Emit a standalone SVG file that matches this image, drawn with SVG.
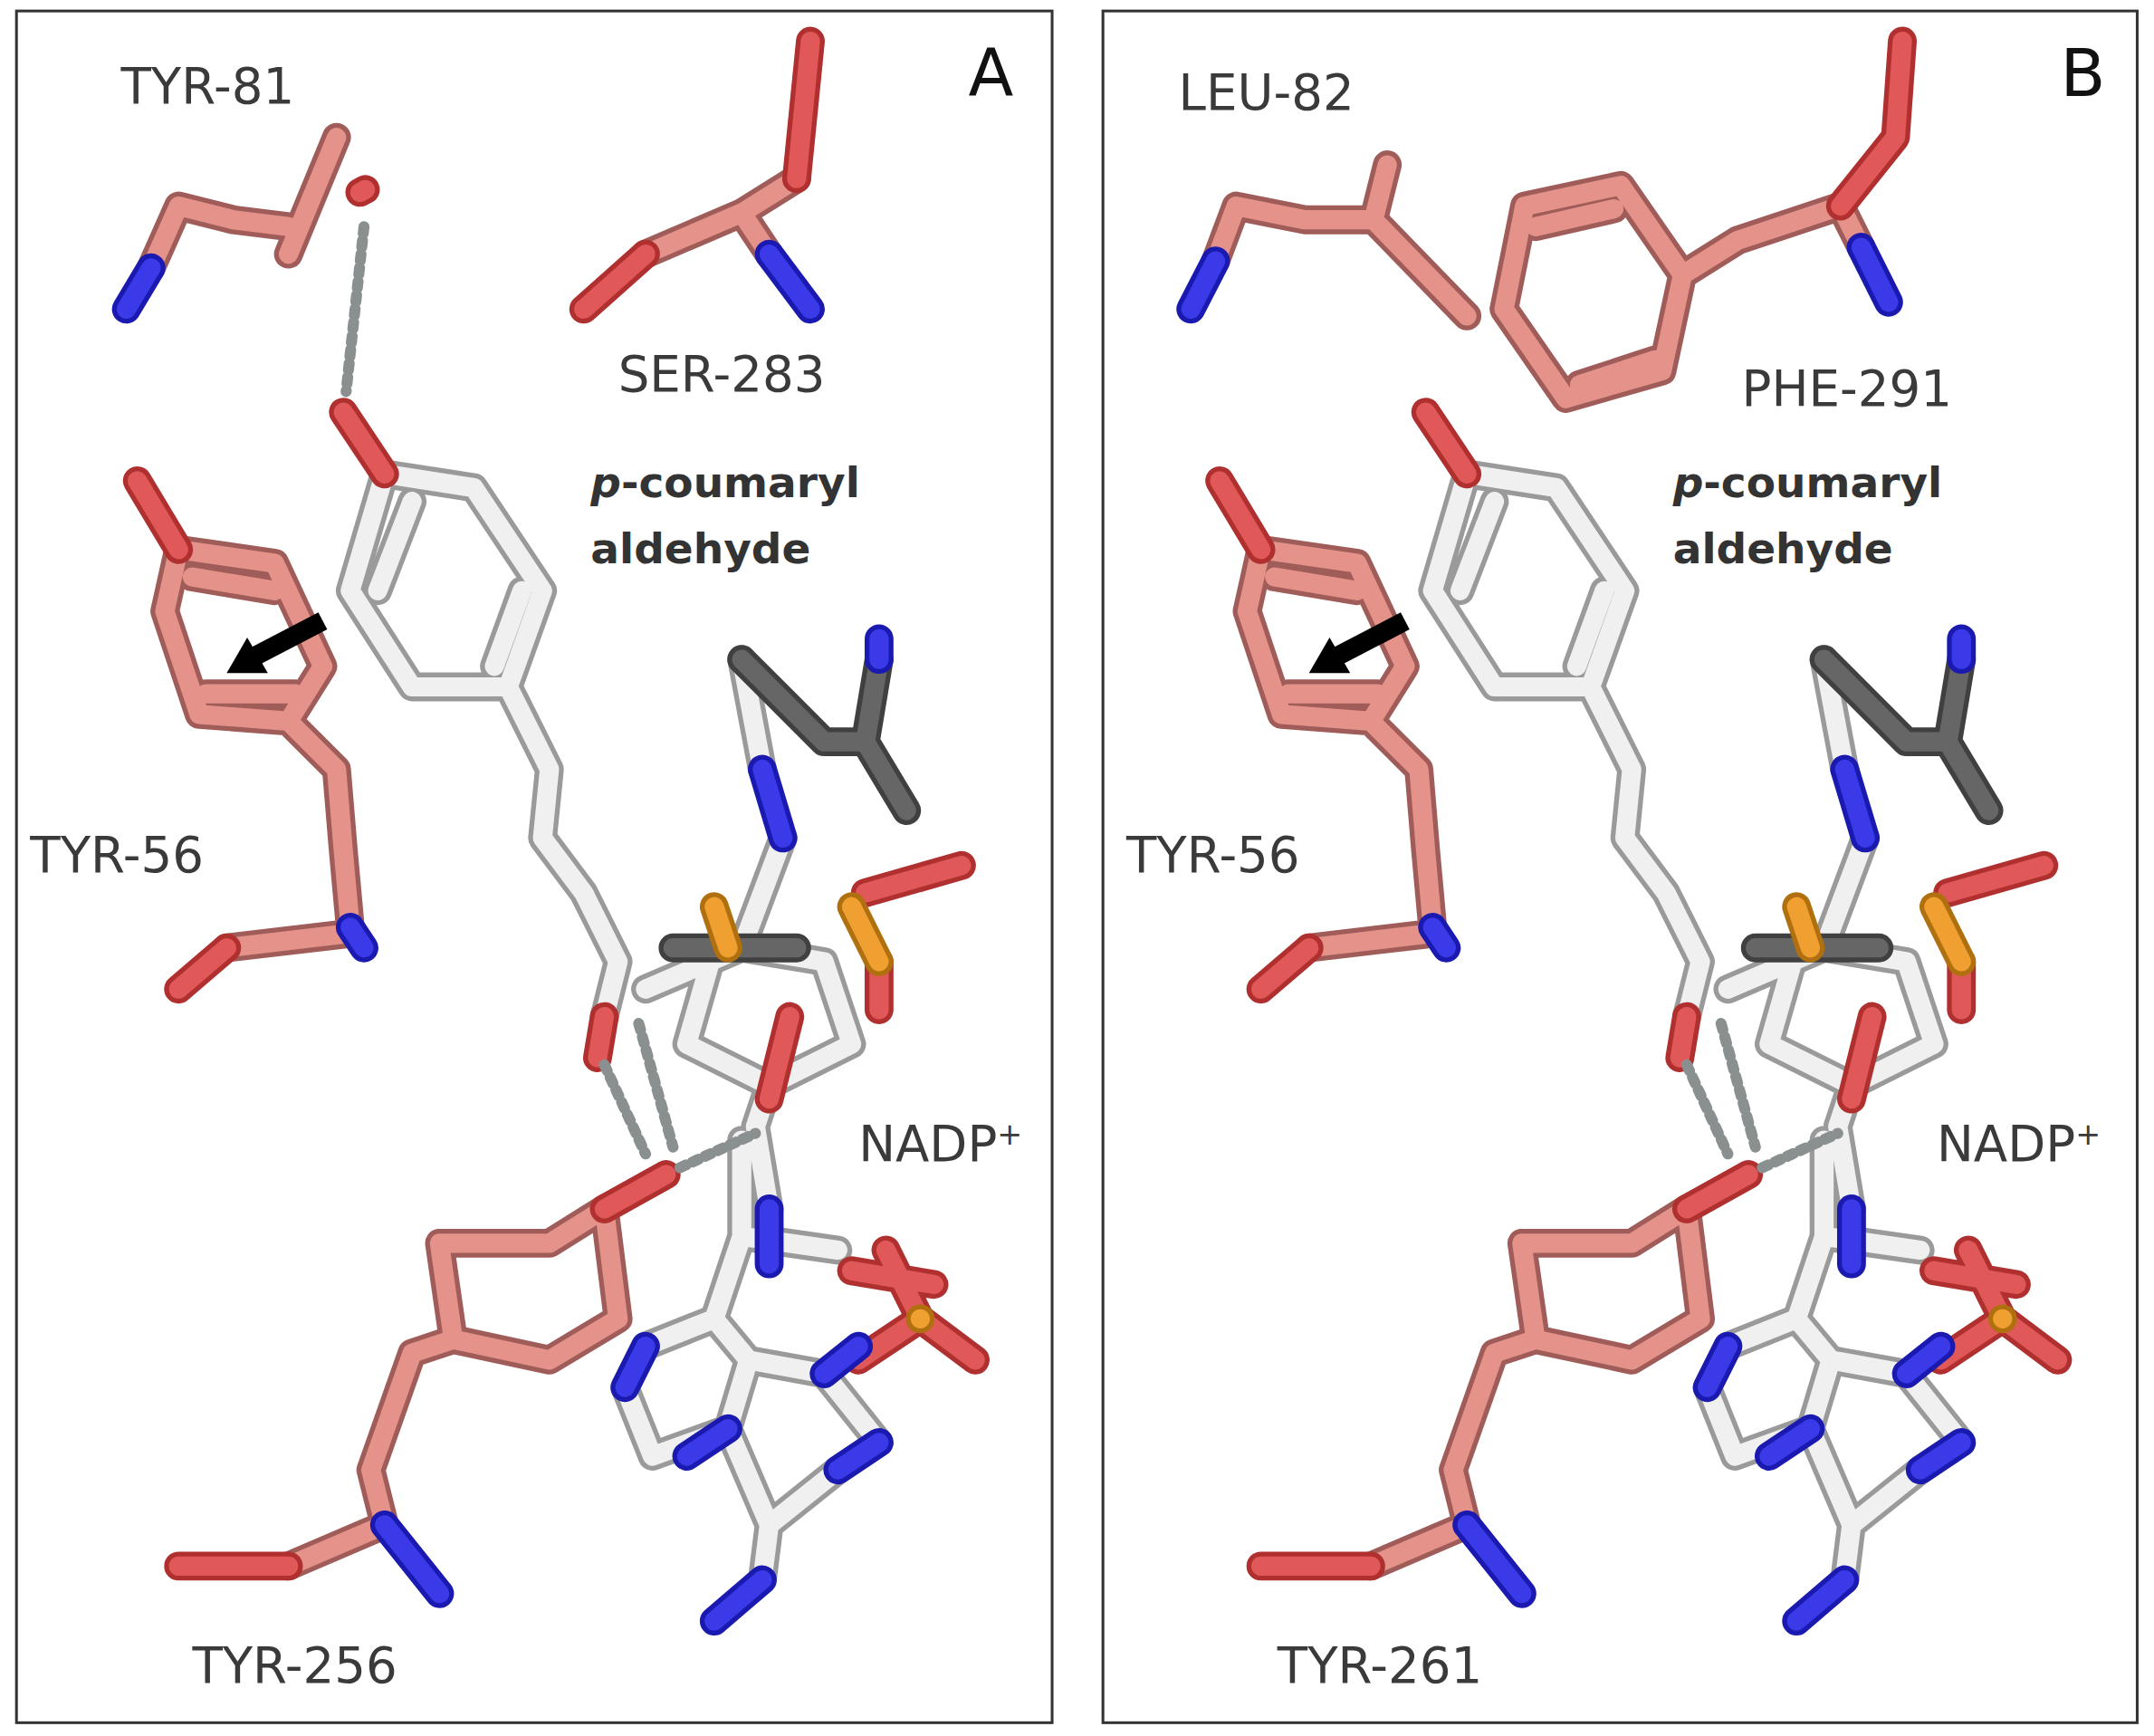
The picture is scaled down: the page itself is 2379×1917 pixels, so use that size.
<svg xmlns="http://www.w3.org/2000/svg" xmlns:xlink="http://www.w3.org/1999/xlink" width="2379" height="1917" viewBox="0 0 2379 1917">
<style>
g.m path{fill:none;stroke-linecap:round;stroke-linejoin:round}
text{font-family:"DejaVu Sans","Liberation Sans",sans-serif;fill:#3a3a3a}
.lab{font-size:36px}
.lig{font-size:31px;font-weight:bold;fill:#333}
.hb{fill:none;stroke:#8a9090;stroke-width:8;stroke-dasharray:5 5;stroke-linecap:round}
</style>
<defs>
<g id="pinkC" class="m">
<path d="M130,400 L200,410 L235,485 L210,525 L145,520 L120,445 Z M140,420 L200,430 M215,505 L150,505 M210,525 L245,560 L250,620 L255,675 M250,680 L165,690"/>
<path d="M400,905 L440,880 L450,960 L400,990 L330,975 L320,905 Z M330,975 L300,985 L270,1070 L280,1110 L210,1140"/>
</g>
<g id="pinkR" class="m"><path d="M100,350 L130,400 M165,690 L130,720 M485,855 L440,880 M210,1140 L130,1140 M575,740 L560,800 M630,650 L700,630 M640,700 L640,735 M625,990 L670,960 L710,990 M670,960 L645,910 M680,935 L620,925"/></g>
<g id="blueC" class="m"><path d="M255,675 L265,690 M280,1110 L320,1160 M555,560 L570,610 M640,480 L640,465 M560,880 L560,920 M470,980 L455,1010 M530,1040 L500,1060 M600,1000 L625,980 M640,1050 L610,1070 M555,1150 L520,1180"/></g>
<g id="whiteC" class="m">
<path d="M280,345 L345,355 L395,430 L370,500 L300,500 L255,430 Z M275,430 L300,365 M380,430 L360,485 M370,500 L400,560 L395,610 L425,650 L450,700 L440,740"/>
<path d="M540,480 L555,560 M570,610 L540,690 L470,720 M540,690 L600,700 L620,760 L560,790 L500,760 L520,690 M560,790 L550,820 L560,880 M540,830 L540,900 L610,910 M540,900 L520,960 L470,980 L455,1010 L475,1060 L530,1040 L545,990 M520,960 L545,990 L600,1000 L640,1050 L610,1070 L560,1110 L530,1040 M560,1110 L555,1150"/>
</g>
<g id="greyD" class="m"><path d="M600,540 L630,540 L640,480 M540,480 L600,540 M630,540 L660,590 M490,690 L520,690 L580,690"/></g>
<g id="orC" class="m"><path d="M520,660 L530,690 M620,660 L640,700 M670,960 L670,960"/></g>
<g id="shared">
<use xlink:href="#pinkC" stroke="#a05c58" stroke-width="21"/>
<use xlink:href="#pinkC" stroke="#e4928a" stroke-width="14"/>
<use xlink:href="#whiteC" stroke="#9a9a9a" stroke-width="21"/>
<use xlink:href="#whiteC" stroke="#f0f0f0" stroke-width="14"/>
<use xlink:href="#greyD" stroke="#404040" stroke-width="21"/>
<use xlink:href="#greyD" stroke="#666" stroke-width="14"/>
<use xlink:href="#pinkR" stroke="#b03030" stroke-width="21"/>
<use xlink:href="#pinkR" stroke="#e05858" stroke-width="14"/>
<use xlink:href="#blueC" stroke="#1a1ab0" stroke-width="21"/>
<use xlink:href="#blueC" stroke="#3a3ae8" stroke-width="14"/>
<use xlink:href="#orC" stroke="#b07010" stroke-width="21"/>
<use xlink:href="#orC" stroke="#f0a030" stroke-width="14"/>
<g class="m"><path d="M250,300 L280,345" stroke="#b03030" stroke-width="21"/><path d="M250,300 L280,345" stroke="#e05858" stroke-width="14"/>
<path d="M435,770 L440,740" stroke="#b03030" stroke-width="21"/><path d="M435,770 L440,740" stroke="#e05858" stroke-width="14"/></g>
<path class="hb" d="M440,775 L470,840 M465,745 L490,835 M495,850 L550,825"/>
<path d="M235,452 L185,478" stroke="#000" stroke-width="14"/>
<path d="M165,490 L180,464 L195,490 Z" fill="#000"/>
</g>
</defs>
<rect width="2379" height="1917" fill="#fff"/>
<g transform="scale(1.517)">
<rect x="12" y="8" width="754" height="1246" fill="none" stroke="#333" stroke-width="2"/>
<rect x="803" y="8" width="753" height="1246" fill="none" stroke="#333" stroke-width="2"/>
<g id="panelA">
<use xlink:href="#shared"/>
<g class="m">
<path d="M110,195 L130,150 L170,160 L210,165 M210,185 L245,100" stroke="#a05c58" stroke-width="21"/>
<path d="M110,195 L130,150 L170,160 L210,165 M210,185 L245,100" stroke="#e4928a" stroke-width="14"/>
<path d="M470,185 L540,155 L580,130 M540,155 L560,185" stroke="#a05c58" stroke-width="21"/>
<path d="M470,185 L540,155 L580,130 M540,155 L560,185" stroke="#e4928a" stroke-width="14"/>
<path d="M92,225 L110,195 M560,185 L590,225" stroke="#1a1ab0" stroke-width="21"/>
<path d="M92,225 L110,195 M560,185 L590,225" stroke="#3a3ae8" stroke-width="14"/>
<path d="M425,225 L470,185 M580,130 L590,30 M262,140 L266,138" stroke="#b03030" stroke-width="21"/>
<path d="M425,225 L470,185 M580,130 L590,30 M262,140 L266,138" stroke="#e05858" stroke-width="14"/>
</g>
<path class="hb" d="M265,165 L252,285"/>
<text x="88" y="75" class="lab">TYR-81</text>
<text x="450" y="285" class="lab">SER-283</text>
<text x="430" y="362" class="lig"><tspan font-style="italic">p</tspan>-coumaryl</text>
<text x="430" y="410" class="lig">aldehyde</text>
<text x="22" y="635" class="lab">TYR-56</text>
<text x="625" y="845" class="lab">NADP<tspan font-size="22" dy="-12">+</tspan></text>
<text x="140" y="1225" class="lab">TYR-256</text>
<text x="705" y="70" font-size="48" style="fill:#111">A</text>
</g>
<g id="panelB">
<use xlink:href="#shared" transform="translate(788,0)"/>
<g class="m">
<path d="M885,190 L900,150 L950,160 L1000,160 L1010,120 M1000,160 L1068,230 M1225,200 L1265,175 L1340,150 M1340,150 L1355,180 M1110,150 L1180,135 L1225,200 L1210,270 L1140,290 L1095,225 Z M1118,165 L1175,152 M1150,280 L1205,262" stroke="#a05c58" stroke-width="21"/>
<path d="M885,190 L900,150 L950,160 L1000,160 L1010,120 M1000,160 L1068,230 M1225,200 L1265,175 L1340,150 M1340,150 L1355,180 M1110,150 L1180,135 L1225,200 L1210,270 L1140,290 L1095,225 Z M1118,165 L1175,152 M1150,280 L1205,262" stroke="#e4928a" stroke-width="14"/>
<path d="M867,225 L885,190 M1355,180 L1375,220" stroke="#1a1ab0" stroke-width="21"/>
<path d="M867,225 L885,190 M1355,180 L1375,220" stroke="#3a3ae8" stroke-width="14"/>
<path d="M1340,150 L1380,100 L1385,30" stroke="#b03030" stroke-width="21"/>
<path d="M1340,150 L1380,100 L1385,30" stroke="#e05858" stroke-width="14"/>
</g>
<text x="858" y="80" class="lab">LEU-82</text>
<text x="1268" y="295" class="lab">PHE-291</text>
<text x="1218" y="362" class="lig"><tspan font-style="italic">p</tspan>-coumaryl</text>
<text x="1218" y="410" class="lig">aldehyde</text>
<text x="820" y="635" class="lab">TYR-56</text>
<text x="1410" y="845" class="lab">NADP<tspan font-size="22" dy="-12">+</tspan></text>
<text x="930" y="1225" class="lab">TYR-261</text>
<text x="1500" y="70" font-size="48" style="fill:#111">B</text>
</g>
</g>
</svg>
